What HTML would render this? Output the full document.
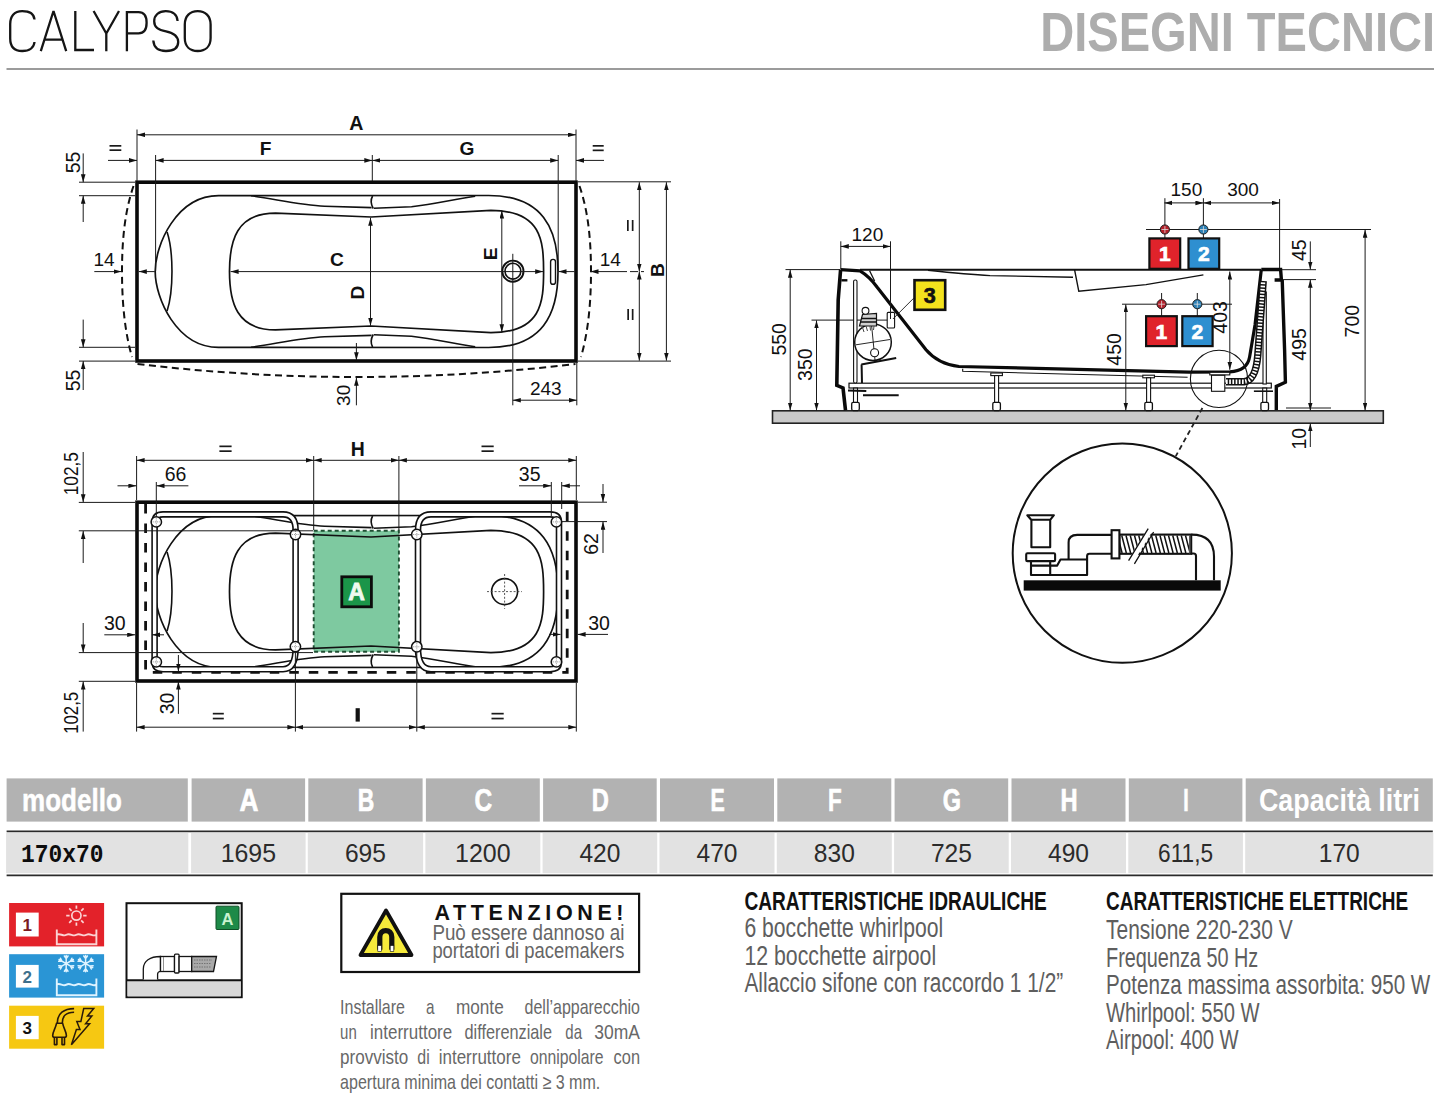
<!DOCTYPE html>
<html><head><meta charset="utf-8"><title>Calypso</title>
<style>
html,body{margin:0;padding:0;background:#fff;}
body{width:1445px;height:1099px;overflow:hidden;position:relative;font-family:"Liberation Sans",sans-serif;}
svg{position:absolute;left:0;top:0;}
</style></head><body>
<svg width="1445" height="1099" viewBox="0 0 1445 1099">
<defs>
<marker id="ar" markerUnits="userSpaceOnUse" markerWidth="9" markerHeight="6" refX="8" refY="2.3" orient="auto-start-reverse"><path d="M0,0 L8,2.3 L0,4.6 Z" fill="#111"/></marker>
</defs>
<g stroke="#151515" stroke-width="2.3" fill="none" stroke-linecap="butt" stroke-linejoin="miter">
<path d="M34.5,19.5 C34,14 29.5,11.2 22.2,11.2 C14,11.2 10.2,16.5 10.2,24 L10.2,38.5 C10.2,46.5 14,51 22.2,51 C29.5,51 34,47.5 34.5,42" stroke="#151515" stroke-width="2.3" fill="none" />
<path d="M40.8,51.2 L53.5,11 L66.2,51.2 M44.6,39.6 L62.4,39.6" stroke="#151515" stroke-width="2.3" fill="none" stroke-linejoin="bevel"/>
<path d="M75.3,11 L75.3,50 L94,50" stroke="#151515" stroke-width="2.3" fill="none" />
<path d="M93.6,11 L106.3,33.5 L119,11 M106.3,33.5 L106.3,51.2" stroke="#151515" stroke-width="2.3" fill="none" />
<path d="M126.9,51.2 L126.9,12.2 L138.5,12.2 C144.5,12.2 146.6,16 146.6,22.8 C146.6,29.5 144.5,33.4 138.5,33.4 L126.9,33.4" stroke="#151515" stroke-width="2.3" fill="none" />
<path d="M177.6,21 C177.2,14.5 172.5,11.2 165.8,11.2 C158.5,11.2 154.2,15.3 154.2,21.2 C154.2,27.5 158.5,29.8 166,31.4 C173.5,33 178.2,35.5 178.2,42 C178.2,48 173.5,51 166,51 C158.2,51 153.8,47.2 153.3,40.5" stroke="#151515" stroke-width="2.3" fill="none" />
<path d="M197.7,11.2 C205.3,11.2 210.6,16 210.6,24.5 L210.6,38 C210.6,46.5 205.3,51 197.7,51 C190,51 184.8,46.5 184.8,38 L184.8,24.5 C184.8,16 190,11.2 197.7,11.2 Z" stroke="#151515" stroke-width="2.3" fill="none" />
</g>
<text x="1040.2" y="51.2" font-family="Liberation Sans" font-size="56" font-weight="bold" text-anchor="start" fill="#adadad" textLength="395" lengthAdjust="spacingAndGlyphs" >DISEGNI TECNICI</text>
<line x1="6.5" y1="69" x2="1434" y2="69" stroke="#7a7a7a" stroke-width="1.5" />
<g transform="translate(0,0)" stroke="#111" fill="none" stroke-width="1.7" stroke-linejoin="round">
<path d="M218.5,195.6 L488.6,195.5 C542.8,195.5 558,229 558,271.5 C558,314 542.8,347.5 488.6,347.5 L218.5,347.4 C176.4,347.4 155.2,298 155.2,271.5 C155.2,245 176.4,195.6 218.5,195.6 Z" stroke="#111" stroke-width="1.7" fill="none" />
<path d="M275.5,213.1 L371,217 L490.9,210.4 C541.7,210.4 543.6,241.1 543.6,271.5 C543.6,301.9 541.7,332.6 490.9,332.6 L371,326 L275.5,329.9 C236.5,329.9 229.5,302.4 229.5,271.5 C229.5,240.6 236.5,213.1 275.5,213.1 Z" stroke="#111" stroke-width="1.7" fill="none" />
<path d="M251,195.8 C275,199 300,205 324.6,206.2 L371.6,207.6" stroke="#111" stroke-width="1.6" fill="none" />
<path d="M373.8,208.3 L411.5,206.7 C435,204 455,199 475.2,196.2" stroke="#111" stroke-width="1.6" fill="none" />
<path d="M372.6,196 C370.6,199.5 370.8,204 373.2,208.5" stroke="#111" stroke-width="1.6" fill="none" />
<path d="M251,347.2 C275,344 300,338 324.6,336.8 L371.6,335.4" stroke="#111" stroke-width="1.6" fill="none" />
<path d="M373.8,334.7 L411.5,336.3 C435,339 455,344 475.2,346.8" stroke="#111" stroke-width="1.6" fill="none" />
<path d="M372.6,347 C370.6,343.5 370.8,339 373.2,334.5" stroke="#111" stroke-width="1.6" fill="none" />
<path d="M167.1,232.1 C173.6,252 173.6,291 167.1,310.9" stroke="#111" stroke-width="1.6" fill="none" />
<circle cx="512.9" cy="271.2" r="10.6" stroke-width="1.9"/>
<circle cx="512.9" cy="271.2" r="7.9" stroke-width="1.6"/>
<rect x="550.6" y="259.4" width="4.9" height="24.9" rx="2.4" stroke-width="1.4"/>
</g>
<rect x="137" y="182.2" width="439" height="178.8" fill="none" stroke="#0a0a0a" stroke-width="3.6"/>
<path d="M133.5,186 C124.5,212 122,242 122,271.5 C122,301 124.5,331 132,357" stroke="#111" stroke-width="2" fill="none" stroke-dasharray="7 4.5"/>
<path d="M579.5,186 C588.5,212 591,242 591,271.5 C591,301 588.5,331 581,357" stroke="#111" stroke-width="2" fill="none" stroke-dasharray="7 4.5"/>
<path d="M137.5,364 Q356.5,390 575.5,364" stroke="#111" stroke-width="2" fill="none" stroke-dasharray="7 4.5"/>
<line x1="137" y1="129.5" x2="137" y2="181" stroke="#1a1a1a" stroke-width="1" />
<line x1="576" y1="129.5" x2="576" y2="181" stroke="#1a1a1a" stroke-width="1" />
<line x1="137" y1="134.8" x2="576" y2="134.8" stroke="#1a1a1a" stroke-width="1" marker-start="url(#ar)" marker-end="url(#ar)"/>
<text x="356.3" y="130" font-family="Liberation Sans" font-size="19.6" font-weight="bold" text-anchor="middle" fill="#111" >A</text>
<line x1="108" y1="160.4" x2="137" y2="160.4" stroke="#1a1a1a" stroke-width="1" marker-end="url(#ar)"/>
<line x1="604" y1="160.4" x2="576" y2="160.4" stroke="#1a1a1a" stroke-width="1" marker-end="url(#ar)"/>
<line x1="109.5" y1="145.85" x2="121.3" y2="145.85" stroke="#1a1a1a" stroke-width="1.7" />
<line x1="109.5" y1="150.15" x2="121.3" y2="150.15" stroke="#1a1a1a" stroke-width="1.7" />
<line x1="592.7" y1="145.85" x2="603.7" y2="145.85" stroke="#1a1a1a" stroke-width="1.7" />
<line x1="592.7" y1="150.35" x2="603.7" y2="150.35" stroke="#1a1a1a" stroke-width="1.7" />
<line x1="155.6" y1="155" x2="155.6" y2="271" stroke="#1a1a1a" stroke-width="1" />
<line x1="372.3" y1="155" x2="372.3" y2="181" stroke="#1a1a1a" stroke-width="1" />
<line x1="558.2" y1="155" x2="558.2" y2="271" stroke="#1a1a1a" stroke-width="1" />
<line x1="155.6" y1="160.4" x2="372.3" y2="160.4" stroke="#1a1a1a" stroke-width="1" marker-start="url(#ar)" marker-end="url(#ar)"/>
<line x1="372.3" y1="160.4" x2="558.2" y2="160.4" stroke="#1a1a1a" stroke-width="1" marker-start="url(#ar)" marker-end="url(#ar)"/>
<text x="265.5" y="154.8" font-family="Liberation Sans" font-size="19.2" font-weight="bold" text-anchor="middle" fill="#111" >F</text>
<text x="466.9" y="154.8" font-family="Liberation Sans" font-size="19.2" font-weight="bold" text-anchor="middle" fill="#111" >G</text>
<line x1="79" y1="182.2" x2="135" y2="182.2" stroke="#1a1a1a" stroke-width="1" />
<line x1="79" y1="195.7" x2="135" y2="195.7" stroke="#1a1a1a" stroke-width="1" />
<line x1="83.2" y1="153.4" x2="83.2" y2="182.2" stroke="#1a1a1a" stroke-width="1" marker-end="url(#ar)"/>
<line x1="83.2" y1="222" x2="83.2" y2="195.7" stroke="#1a1a1a" stroke-width="1" marker-end="url(#ar)"/>
<text transform="translate(80,162.5) rotate(-90)" x="0" y="0" font-family="Liberation Sans" font-size="19.5" font-weight="normal" text-anchor="middle" fill="#111">55</text>
<line x1="79" y1="347.3" x2="135" y2="347.3" stroke="#1a1a1a" stroke-width="1" />
<line x1="79" y1="361.1" x2="135" y2="361.1" stroke="#1a1a1a" stroke-width="1" />
<line x1="83.2" y1="319.6" x2="83.2" y2="347.3" stroke="#1a1a1a" stroke-width="1" marker-end="url(#ar)"/>
<line x1="83.2" y1="390" x2="83.2" y2="361.1" stroke="#1a1a1a" stroke-width="1" marker-end="url(#ar)"/>
<text transform="translate(80,380.5) rotate(-90)" x="0" y="0" font-family="Liberation Sans" font-size="19.5" font-weight="normal" text-anchor="middle" fill="#111">55</text>
<line x1="94.3" y1="271.6" x2="121.5" y2="271.6" stroke="#1a1a1a" stroke-width="1" marker-end="url(#ar)"/>
<line x1="154.8" y1="271.6" x2="138.8" y2="271.6" stroke="#1a1a1a" stroke-width="1" marker-end="url(#ar)"/>
<text x="104" y="266.3" font-family="Liberation Sans" font-size="19" font-weight="normal" text-anchor="middle" fill="#111" >14</text>
<line x1="230.6" y1="271.6" x2="543.2" y2="271.6" stroke="#1a1a1a" stroke-width="1" marker-start="url(#ar)" marker-end="url(#ar)"/>
<text x="337.05" y="265.6" font-family="Liberation Sans" font-size="19.2" font-weight="bold" text-anchor="middle" fill="#111" >C</text>
<line x1="574.5" y1="271.6" x2="558.5" y2="271.6" stroke="#1a1a1a" stroke-width="1" marker-end="url(#ar)"/>
<line x1="619" y1="271.6" x2="590.5" y2="271.6" stroke="#1a1a1a" stroke-width="1" marker-end="url(#ar)"/>
<line x1="619" y1="271.6" x2="644" y2="271.6" stroke="#1a1a1a" stroke-width="1" stroke-dasharray="8 3"/>
<text x="610.35" y="266.3" font-family="Liberation Sans" font-size="19" font-weight="normal" text-anchor="middle" fill="#111" >14</text>
<line x1="370.5" y1="217.8" x2="370.5" y2="325.8" stroke="#1a1a1a" stroke-width="1" marker-start="url(#ar)" marker-end="url(#ar)"/>
<text transform="translate(364,292.6) rotate(-90)" x="0" y="0" font-family="Liberation Sans" font-size="19.2" font-weight="bold" text-anchor="middle" fill="#111">D</text>
<line x1="501.8" y1="210.6" x2="501.8" y2="332.2" stroke="#1a1a1a" stroke-width="1" marker-start="url(#ar)" marker-end="url(#ar)"/>
<text transform="translate(496.6,253.8) rotate(-90)" x="0" y="0" font-family="Liberation Sans" font-size="19.2" font-weight="bold" text-anchor="middle" fill="#111">E</text>
<line x1="512.8" y1="253.8" x2="512.8" y2="405.3" stroke="#1a1a1a" stroke-width="1" />
<line x1="576.8" y1="362" x2="576.8" y2="405.3" stroke="#1a1a1a" stroke-width="1" />
<line x1="512.8" y1="400.2" x2="576.8" y2="400.2" stroke="#1a1a1a" stroke-width="1" marker-start="url(#ar)" marker-end="url(#ar)"/>
<text x="545.8" y="395.4" font-family="Liberation Sans" font-size="19" font-weight="normal" text-anchor="middle" fill="#111" >243</text>
<line x1="356.4" y1="343" x2="356.4" y2="360.3" stroke="#1a1a1a" stroke-width="1" marker-end="url(#ar)"/>
<line x1="356.4" y1="405.3" x2="356.4" y2="377.8" stroke="#1a1a1a" stroke-width="1" marker-end="url(#ar)"/>
<text transform="translate(349.8,395.35) rotate(-90)" x="0" y="0" font-family="Liberation Sans" font-size="19" font-weight="normal" text-anchor="middle" fill="#111">30</text>
<line x1="578" y1="181.8" x2="671" y2="181.8" stroke="#1a1a1a" stroke-width="1" />
<line x1="578" y1="361.1" x2="671" y2="361.1" stroke="#1a1a1a" stroke-width="1" />
<line x1="666.4" y1="182.2" x2="666.4" y2="360.7" stroke="#1a1a1a" stroke-width="1" marker-start="url(#ar)" marker-end="url(#ar)"/>
<line x1="639.3" y1="182.2" x2="639.3" y2="271.6" stroke="#1a1a1a" stroke-width="1" marker-start="url(#ar)" marker-end="url(#ar)"/>
<line x1="639.3" y1="271.6" x2="639.3" y2="360.7" stroke="#1a1a1a" stroke-width="1" marker-start="url(#ar)" marker-end="url(#ar)"/>
<text transform="translate(664,270.15) rotate(-90)" x="0" y="0" font-family="Liberation Sans" font-size="19.2" font-weight="bold" text-anchor="middle" fill="#111">B</text>
<line x1="627.85" y1="220" x2="627.85" y2="231" stroke="#1a1a1a" stroke-width="1.7" />
<line x1="632.65" y1="220" x2="632.65" y2="231" stroke="#1a1a1a" stroke-width="1.7" />
<line x1="628.15" y1="309" x2="628.15" y2="320" stroke="#1a1a1a" stroke-width="1.7" />
<line x1="632.65" y1="309" x2="632.65" y2="320" stroke="#1a1a1a" stroke-width="1.7" />
<rect x="313.7" y="530.8" width="85.2" height="121" fill="#7ec9a0" stroke="#1f4f33" stroke-width="1.9" stroke-dasharray="4 3"/>
<g transform="translate(0,320)" stroke="#111" fill="none" stroke-width="1.7" stroke-linejoin="round">
<path d="M218.5,195.6 L488.6,195.5 C542.8,195.5 558,229 558,271.5 C558,314 542.8,347.5 488.6,347.5 L218.5,347.4 C176.4,347.4 155.2,298 155.2,271.5 C155.2,245 176.4,195.6 218.5,195.6 Z" stroke="#111" stroke-width="1.7" fill="none" />
<path d="M275.5,213.1 L371,217 L490.9,210.4 C541.7,210.4 543.6,241.1 543.6,271.5 C543.6,301.9 541.7,332.6 490.9,332.6 L371,326 L275.5,329.9 C236.5,329.9 229.5,302.4 229.5,271.5 C229.5,240.6 236.5,213.1 275.5,213.1 Z" stroke="#111" stroke-width="1.7" fill="none" />
<path d="M251,195.8 C275,199 300,205 324.6,206.2 L371.6,207.6" stroke="#111" stroke-width="1.6" fill="none" />
<path d="M373.8,208.3 L411.5,206.7 C435,204 455,199 475.2,196.2" stroke="#111" stroke-width="1.6" fill="none" />
<path d="M372.6,196 C370.6,199.5 370.8,204 373.2,208.5" stroke="#111" stroke-width="1.6" fill="none" />
<path d="M251,347.2 C275,344 300,338 324.6,336.8 L371.6,335.4" stroke="#111" stroke-width="1.6" fill="none" />
<path d="M373.8,334.7 L411.5,336.3 C435,339 455,344 475.2,346.8" stroke="#111" stroke-width="1.6" fill="none" />
<path d="M372.6,347 C370.6,343.5 370.8,339 373.2,334.5" stroke="#111" stroke-width="1.6" fill="none" />
<path d="M167.1,232.1 C173.6,252 173.6,291 167.1,310.9" stroke="#111" stroke-width="1.6" fill="none" />
</g>
<circle cx="504.6" cy="591.6" r="13" fill="none" stroke="#111" stroke-width="1.6"/>
<path d="M487,591.6 H522 M504.6,574 V609" stroke="#444" stroke-width="0.9" stroke-dasharray="2 1.8"/>
<rect x="137" y="502.2" width="439" height="178.8" fill="none" stroke="#0a0a0a" stroke-width="3.6"/>
<path d="M154.6,522 Q154.6,514.4 163,514.4 H283 Q295.6,514.4 295.6,530 V648 Q295.6,669.2 283,669.2 H163 Q154.6,669.2 154.6,662 Z" fill="none" stroke="#111" stroke-width="6.6" stroke-linejoin="round"/>
<path d="M154.6,522 Q154.6,514.4 163,514.4 H283 Q295.6,514.4 295.6,530 V648 Q295.6,669.2 283,669.2 H163 Q154.6,669.2 154.6,662 Z" fill="none" stroke="#fff" stroke-width="3.4" stroke-linejoin="round"/>
<path d="M418,530 Q418,514.4 431,514.4 H550 Q559,514.4 559,522 V662 Q559,669.2 550,669.2 H431 Q418,669.2 418,648 Z" fill="none" stroke="#111" stroke-width="6.6" stroke-linejoin="round"/>
<path d="M418,530 Q418,514.4 431,514.4 H550 Q559,514.4 559,522 V662 Q559,669.2 550,669.2 H431 Q418,669.2 418,648 Z" fill="none" stroke="#fff" stroke-width="3.4" stroke-linejoin="round"/>
<circle cx="156.3" cy="521.9" r="5.2" fill="#fff" stroke="#111" stroke-width="1.5"/>
<path d="M152.6,521.9 H160 M156.3,518.2 V525.6" stroke="#777" stroke-width="0.7" stroke-dasharray="1.2 1"/>
<circle cx="295.5" cy="534.5" r="5.2" fill="#fff" stroke="#111" stroke-width="1.5"/>
<path d="M291.8,534.5 H299.2 M295.5,530.8 V538.2" stroke="#777" stroke-width="0.7" stroke-dasharray="1.2 1"/>
<circle cx="156.3" cy="661.9" r="5.2" fill="#fff" stroke="#111" stroke-width="1.5"/>
<path d="M152.6,661.9 H160 M156.3,658.2 V665.6" stroke="#777" stroke-width="0.7" stroke-dasharray="1.2 1"/>
<circle cx="295.4" cy="646.6" r="5.2" fill="#fff" stroke="#111" stroke-width="1.5"/>
<path d="M291.7,646.6 H299.1 M295.4,642.9 V650.3" stroke="#777" stroke-width="0.7" stroke-dasharray="1.2 1"/>
<circle cx="416.8" cy="534.5" r="5.2" fill="#fff" stroke="#111" stroke-width="1.5"/>
<path d="M413.1,534.5 H420.5 M416.8,530.8 V538.2" stroke="#777" stroke-width="0.7" stroke-dasharray="1.2 1"/>
<circle cx="556.4" cy="521.9" r="5.2" fill="#fff" stroke="#111" stroke-width="1.5"/>
<path d="M552.7,521.9 H560.1 M556.4,518.2 V525.6" stroke="#777" stroke-width="0.7" stroke-dasharray="1.2 1"/>
<circle cx="416.8" cy="646.8" r="5.2" fill="#fff" stroke="#111" stroke-width="1.5"/>
<path d="M413.1,646.8 H420.5 M416.8,643.1 V650.5" stroke="#777" stroke-width="0.7" stroke-dasharray="1.2 1"/>
<circle cx="556.4" cy="661.9" r="5.2" fill="#fff" stroke="#111" stroke-width="1.5"/>
<path d="M552.7,661.9 H560.1 M556.4,658.2 V665.6" stroke="#777" stroke-width="0.7" stroke-dasharray="1.2 1"/>
<path d="M145.6,504 V672.3 H567.2 V504" stroke="#111" stroke-width="2.8" fill="none" stroke-dasharray="9.5 10"/>
<rect x="341.8" y="576.8" width="29.6" height="30" fill="#1b9549" stroke="#0c0c0c" stroke-width="2.8"/>
<text x="356.6" y="600.2" font-family="Liberation Sans" font-size="23" font-weight="bold" text-anchor="middle" fill="#effaef" stroke="#effaef" stroke-width="0.8">A</text>
<line x1="136.6" y1="456" x2="136.6" y2="500" stroke="#1a1a1a" stroke-width="1" />
<line x1="313.7" y1="456" x2="313.7" y2="530" stroke="#1a1a1a" stroke-width="1" />
<line x1="398.9" y1="456" x2="398.9" y2="530" stroke="#1a1a1a" stroke-width="1" />
<line x1="576.3" y1="456" x2="576.3" y2="500" stroke="#1a1a1a" stroke-width="1" />
<line x1="136.6" y1="460.3" x2="313.7" y2="460.3" stroke="#1a1a1a" stroke-width="1" marker-start="url(#ar)" marker-end="url(#ar)"/>
<line x1="313.7" y1="460.3" x2="398.9" y2="460.3" stroke="#1a1a1a" stroke-width="1" marker-start="url(#ar)" marker-end="url(#ar)"/>
<line x1="398.9" y1="460.3" x2="576.3" y2="460.3" stroke="#1a1a1a" stroke-width="1" marker-start="url(#ar)" marker-end="url(#ar)"/>
<line x1="219.4" y1="446.35" x2="231.6" y2="446.35" stroke="#1a1a1a" stroke-width="1.7" />
<line x1="219.4" y1="451.15" x2="231.6" y2="451.15" stroke="#1a1a1a" stroke-width="1.7" />
<line x1="481.5" y1="446.35" x2="493.7" y2="446.35" stroke="#1a1a1a" stroke-width="1.7" />
<line x1="481.5" y1="451.15" x2="493.7" y2="451.15" stroke="#1a1a1a" stroke-width="1.7" />
<text x="357.7" y="455.5" font-family="Liberation Sans" font-size="19.4" font-weight="bold" text-anchor="middle" fill="#111" >H</text>
<line x1="117.5" y1="485.8" x2="136.4" y2="485.8" stroke="#1a1a1a" stroke-width="1" marker-end="url(#ar)"/>
<line x1="188.4" y1="485.8" x2="156.5" y2="485.8" stroke="#1a1a1a" stroke-width="1" marker-end="url(#ar)"/>
<line x1="156.3" y1="482" x2="156.3" y2="516" stroke="#1a1a1a" stroke-width="1" />
<text x="175.5" y="481.4" font-family="Liberation Sans" font-size="19.5" font-weight="normal" text-anchor="middle" fill="#111" >66</text>
<line x1="519" y1="485.8" x2="551.2" y2="485.8" stroke="#1a1a1a" stroke-width="1" marker-end="url(#ar)"/>
<line x1="580" y1="485.8" x2="561.8" y2="485.8" stroke="#1a1a1a" stroke-width="1" marker-end="url(#ar)"/>
<line x1="551.3" y1="482" x2="551.3" y2="516" stroke="#1a1a1a" stroke-width="1" />
<line x1="561.7" y1="482" x2="561.7" y2="509" stroke="#1a1a1a" stroke-width="1" />
<text x="529.65" y="481.4" font-family="Liberation Sans" font-size="19.5" font-weight="normal" text-anchor="middle" fill="#111" >35</text>
<line x1="78.8" y1="502.4" x2="135" y2="502.4" stroke="#1a1a1a" stroke-width="1" />
<line x1="78.8" y1="530.8" x2="313" y2="530.8" stroke="#1a1a1a" stroke-width="1" />
<line x1="83.2" y1="452" x2="83.2" y2="502.2" stroke="#1a1a1a" stroke-width="1" marker-end="url(#ar)"/>
<line x1="83.2" y1="563" x2="83.2" y2="531" stroke="#1a1a1a" stroke-width="1" marker-end="url(#ar)"/>
<text transform="translate(78.4,473.65) rotate(-90)" x="0" y="0" font-family="Liberation Sans" font-size="19.5" font-weight="normal" text-anchor="middle" fill="#111" textLength="43.3" lengthAdjust="spacingAndGlyphs">102,5</text>
<line x1="104.3" y1="634.8" x2="135.2" y2="634.8" stroke="#1a1a1a" stroke-width="1" marker-end="url(#ar)"/>
<line x1="164" y1="634.8" x2="152" y2="634.8" stroke="#1a1a1a" stroke-width="1" marker-end="url(#ar)"/>
<text x="114.8" y="629.8" font-family="Liberation Sans" font-size="19.5" font-weight="normal" text-anchor="middle" fill="#111" >30</text>
<line x1="78.8" y1="652.6" x2="313" y2="652.6" stroke="#1a1a1a" stroke-width="1" />
<line x1="78.8" y1="681.3" x2="135" y2="681.3" stroke="#1a1a1a" stroke-width="1" />
<line x1="83.2" y1="623" x2="83.2" y2="652.4" stroke="#1a1a1a" stroke-width="1" marker-end="url(#ar)"/>
<line x1="83.2" y1="731.6" x2="83.2" y2="681.5" stroke="#1a1a1a" stroke-width="1" marker-end="url(#ar)"/>
<text transform="translate(78.4,712.8) rotate(-90)" x="0" y="0" font-family="Liberation Sans" font-size="19.5" font-weight="normal" text-anchor="middle" fill="#111" textLength="42" lengthAdjust="spacingAndGlyphs">102,5</text>
<line x1="178.4" y1="655" x2="178.4" y2="671.5" stroke="#1a1a1a" stroke-width="1" marker-end="url(#ar)"/>
<line x1="178.4" y1="713.9" x2="178.4" y2="681.5" stroke="#1a1a1a" stroke-width="1" marker-end="url(#ar)"/>
<text transform="translate(174,703.4) rotate(-90)" x="0" y="0" font-family="Liberation Sans" font-size="19.5" font-weight="normal" text-anchor="middle" fill="#111">30</text>
<line x1="136.6" y1="683" x2="136.6" y2="731.6" stroke="#1a1a1a" stroke-width="1" />
<line x1="295.4" y1="652" x2="295.4" y2="731.6" stroke="#1a1a1a" stroke-width="1" />
<line x1="416.8" y1="652" x2="416.8" y2="731.6" stroke="#1a1a1a" stroke-width="1" />
<line x1="576.3" y1="683" x2="576.3" y2="731.6" stroke="#1a1a1a" stroke-width="1" />
<line x1="136.6" y1="727.2" x2="295.4" y2="727.2" stroke="#1a1a1a" stroke-width="1" marker-start="url(#ar)" marker-end="url(#ar)"/>
<line x1="295.4" y1="727.2" x2="416.8" y2="727.2" stroke="#1a1a1a" stroke-width="1" marker-start="url(#ar)" marker-end="url(#ar)"/>
<line x1="416.8" y1="727.2" x2="576.3" y2="727.2" stroke="#1a1a1a" stroke-width="1" marker-start="url(#ar)" marker-end="url(#ar)"/>
<line x1="212.8" y1="713.65" x2="223.8" y2="713.65" stroke="#1a1a1a" stroke-width="1.7" />
<line x1="212.8" y1="718.55" x2="223.8" y2="718.55" stroke="#1a1a1a" stroke-width="1.7" />
<line x1="491.5" y1="713.65" x2="503.7" y2="713.65" stroke="#1a1a1a" stroke-width="1.7" />
<line x1="491.5" y1="718.55" x2="503.7" y2="718.55" stroke="#1a1a1a" stroke-width="1.7" />
<rect x="355.6" y="708.2" width="4.2" height="13.4" fill="#111"/>
<line x1="578" y1="502.2" x2="607" y2="502.2" stroke="#1a1a1a" stroke-width="1" />
<line x1="562" y1="521.6" x2="607" y2="521.6" stroke="#1a1a1a" stroke-width="1" />
<line x1="603" y1="484" x2="603" y2="502" stroke="#1a1a1a" stroke-width="1" marker-end="url(#ar)"/>
<line x1="603" y1="553" x2="603" y2="521.8" stroke="#1a1a1a" stroke-width="1" marker-end="url(#ar)"/>
<text transform="translate(598,544) rotate(-90)" x="0" y="0" font-family="Liberation Sans" font-size="19.5" font-weight="normal" text-anchor="middle" fill="#111">62</text>
<line x1="608" y1="634.4" x2="577.6" y2="634.4" stroke="#1a1a1a" stroke-width="1" marker-end="url(#ar)"/>
<line x1="549" y1="634.4" x2="560.5" y2="634.4" stroke="#1a1a1a" stroke-width="1" marker-end="url(#ar)"/>
<text x="599" y="629.6" font-family="Liberation Sans" font-size="19.5" font-weight="normal" text-anchor="middle" fill="#111" >30</text>
<rect x="772.5" y="410.8" width="610.8" height="12.4" fill="#c9c9c9" stroke="#222" stroke-width="1.6"/>
<line x1="785.5" y1="269.6" x2="840" y2="269.6" stroke="#1a1a1a" stroke-width="1" />
<line x1="860" y1="269.8" x2="1261" y2="269.8" stroke="#111" stroke-width="1.9" />
<line x1="1146" y1="229.5" x2="1371" y2="229.5" stroke="#1a1a1a" stroke-width="1" />
<line x1="1122" y1="304.2" x2="1232" y2="304.2" stroke="#1a1a1a" stroke-width="1" />
<line x1="811.5" y1="320.1" x2="893" y2="320.1" stroke="#1a1a1a" stroke-width="1" />
<path d="M928,270.2 C950,272.5 970,274.5 990,275.6 L1073,277.3" stroke="#111" stroke-width="1.4" fill="none" />
<path d="M1074.6,269.8 L1078.8,291.3 L1146,284.6 L1203.4,274.9" stroke="#111" stroke-width="1.4" fill="none" />
<rect x="849" y="383.2" width="422.3" height="4.8" fill="#fff" stroke="#111" stroke-width="1.2"/>
<path d="M962.7,368.8 V371.3 L1187.6,377.2" stroke="#111" stroke-width="1.1" fill="none" />
<rect x="853.5" y="388.1" width="4" height="14.4" fill="#fff" stroke="#111" stroke-width="1.1"/>
<rect x="851.7" y="402.3" width="7.6" height="8.3" rx="1.5" fill="#fff" stroke="#111" stroke-width="1.3"/>
<rect x="990.8" y="373" width="11.6" height="2.6" fill="#fff" stroke="#111" stroke-width="1.1"/>
<rect x="994.6" y="375.6" width="4" height="26.9" fill="#fff" stroke="#111" stroke-width="1.1"/>
<rect x="992.8" y="402.3" width="7.6" height="8.3" rx="1.5" fill="#fff" stroke="#111" stroke-width="1.3"/>
<rect x="1142.8" y="375.2" width="11.6" height="2.6" fill="#fff" stroke="#111" stroke-width="1.1"/>
<rect x="1146.6" y="377.8" width="4" height="24.7" fill="#fff" stroke="#111" stroke-width="1.1"/>
<rect x="1144.8" y="402.3" width="7.6" height="8.3" rx="1.5" fill="#fff" stroke="#111" stroke-width="1.3"/>
<rect x="1262.7" y="388.1" width="4" height="14.4" fill="#fff" stroke="#111" stroke-width="1.1"/>
<rect x="1260.9" y="402.3" width="7.6" height="8.3" rx="1.5" fill="#fff" stroke="#111" stroke-width="1.3"/>
<path d="M840.6,269.6 L860,270.8 C867,275 872,280 877,287 L926,349.7 C933,358 943,364.5 959,366.5 L1189,372.2 L1229.8,371.8 C1242,371.2 1248,366 1249.6,357 L1255,325 L1261.3,269.5" stroke="#0a0a0a" stroke-width="3.2" fill="none" />
<path d="M840.6,269.6 L838.2,299.8 L836.8,385.4 L843,387.9 L845.5,410.3" stroke="#0a0a0a" stroke-width="3.6" fill="none" />
<path d="M1261.3,269.5 L1280.6,269.5 L1281.4,280 L1274.6,280" stroke="#0a0a0a" stroke-width="3.4" fill="none" />
<path d="M1282.2,280 L1284.6,350 L1285.4,382.2 L1276.3,386.4 L1276.3,410" stroke="#0a0a0a" stroke-width="3.4" fill="none" />
<path d="M869.6,270.8 L874.6,281" stroke="#111" stroke-width="1.3" fill="none" />
<path d="M841.4,280.3 L847.4,280.3" stroke="#0a0a0a" stroke-width="2.4" fill="none" />
<rect x="853.6" y="280" width="3.4" height="103" rx="1.5" fill="#fff" stroke="#111" stroke-width="1.1"/>
<rect x="1263" y="292" width="3.3" height="92" fill="#fff" stroke="#111" stroke-width="1.1"/>
<circle cx="873" cy="342.2" r="18.3" fill="#fff" stroke="#111" stroke-width="1.5"/>
<path d="M856,344.8 L890,339.5 M871.5,324.5 L875,360" stroke="#111" stroke-width="0.9" fill="none" />
<circle cx="874.6" cy="352.8" r="4" fill="#fff" stroke="#111" stroke-width="1.1"/>
<path d="M859.5,326 L862.5,314.5 L876.5,313.5 L876.5,326 Z" stroke="#111" stroke-width="1.2" fill="#d0d0d0" />
<path d="M861,318.5 H876.5 M860.5,322 H876.5" stroke="#111" stroke-width="1.3" fill="none" />
<path d="M862,326 L864,332 M866,326 L867.5,331 M870,326 L870.5,330.5 M874,326 L873.5,330" stroke="#444" stroke-width="1" fill="none" />
<circle cx="865.5" cy="310.8" r="3.4" fill="#fff" stroke="#111" stroke-width="1.1"/>
<rect x="887.2" y="312.4" width="7.4" height="15.6" rx="1" fill="#fff" stroke="#111" stroke-width="1.1"/>
<line x1="892.9" y1="319" x2="913.7" y2="298.2" stroke="#1a1a1a" stroke-width="0.9" />
<path d="M861.3,364.6 L896.2,358 M861.6,364.6 L862,383" stroke="#111" stroke-width="2" fill="none" />
<path d="M848,390.4 L866.3,391 M863,395.3 L898.7,395.3" stroke="#111" stroke-width="2" fill="none" />
<path d="M1253.9,391.2 L1273,391.2" stroke="#111" stroke-width="1.6" fill="none" />
<path d="M1226,381.8 L1244,381.8 C1252,381 1256.5,372 1257.8,355 L1263.2,281" fill="none" stroke="#111" stroke-width="7.4"/>
<path d="M1226,381.8 L1244,381.8 C1252,381 1256.5,372 1257.8,355 L1263.2,281" fill="none" stroke="#fff" stroke-width="4.4" stroke-dasharray="1.7 1.5"/>
<rect x="1209.8" y="372.3" width="20" height="2.6" fill="#fff" stroke="#111" stroke-width="1.1"/>
<rect x="1211.5" y="375.3" width="13.3" height="16" fill="#fff" stroke="#111" stroke-width="1.1"/>
<circle cx="1219" cy="378.9" r="28.6" fill="none" stroke="#111" stroke-width="1.1"/>
<line x1="1202.4" y1="408" x2="1175.8" y2="456.1" stroke="#222" stroke-width="1.8" stroke-dasharray="5 3.5"/>
<rect x="914.5" y="280.2" width="30.7" height="29.6" fill="#f3e21d" stroke="#111" stroke-width="2.6"/>
<text x="929.85" y="302.74" font-family="Liberation Sans" font-size="21.5" font-weight="bold" text-anchor="middle" fill="#111" stroke="#111" stroke-width="0.7">3</text>
<line x1="1164.9" y1="198.2" x2="1164.9" y2="238" stroke="#1a1a1a" stroke-width="1" />
<line x1="1203.4" y1="198.2" x2="1203.4" y2="238" stroke="#1a1a1a" stroke-width="1" />
<line x1="1161.6" y1="293" x2="1161.6" y2="316" stroke="#1a1a1a" stroke-width="1" />
<line x1="1197.3" y1="293" x2="1197.3" y2="316" stroke="#1a1a1a" stroke-width="1" />
<circle cx="1164.9" cy="229.5" r="4.6" fill="#b3202a" stroke="#222" stroke-width="1"/>
<path d="M1161.5,229.5 H1168.3 M1164.9,226.1 V232.9" stroke="#ddd" stroke-width="0.8"/>
<circle cx="1203.4" cy="229.5" r="4.6" fill="#2a7fb5" stroke="#222" stroke-width="1"/>
<path d="M1200,229.5 H1206.8 M1203.4,226.1 V232.9" stroke="#ddd" stroke-width="0.8"/>
<circle cx="1161.6" cy="304.2" r="4.6" fill="#b3202a" stroke="#222" stroke-width="1"/>
<path d="M1158.2,304.2 H1165 M1161.6,300.8 V307.6" stroke="#ddd" stroke-width="0.8"/>
<circle cx="1197.3" cy="304.2" r="4.6" fill="#2a7fb5" stroke="#222" stroke-width="1"/>
<path d="M1193.9,304.2 H1200.7 M1197.3,300.8 V307.6" stroke="#ddd" stroke-width="0.8"/>
<rect x="1149.4" y="238.4" width="30.8" height="30.4" fill="#e0232b" stroke="#111" stroke-width="2.2"/>
<text x="1164.8" y="261.16" font-family="Liberation Sans" font-size="21" font-weight="bold" text-anchor="middle" fill="#fff" stroke="#fff" stroke-width="0.7">1</text>
<rect x="1188.5" y="238.4" width="30.7" height="30.4" fill="#2e8fd0" stroke="#111" stroke-width="2.2"/>
<text x="1203.85" y="261.16" font-family="Liberation Sans" font-size="21" font-weight="bold" text-anchor="middle" fill="#fff" stroke="#fff" stroke-width="0.7">2</text>
<rect x="1146.1" y="316.2" width="30.7" height="29.9" fill="#e0232b" stroke="#111" stroke-width="2.2"/>
<text x="1161.45" y="338.71" font-family="Liberation Sans" font-size="21" font-weight="bold" text-anchor="middle" fill="#fff" stroke="#fff" stroke-width="0.7">1</text>
<rect x="1182.3" y="316.2" width="30.3" height="29.9" fill="#2e8fd0" stroke="#111" stroke-width="2.2"/>
<text x="1197.45" y="338.71" font-family="Liberation Sans" font-size="21" font-weight="bold" text-anchor="middle" fill="#fff" stroke="#fff" stroke-width="0.7">2</text>
<line x1="840.8" y1="241.3" x2="840.8" y2="269" stroke="#1a1a1a" stroke-width="1" />
<line x1="890.5" y1="241.3" x2="890.5" y2="319" stroke="#1a1a1a" stroke-width="1" />
<line x1="840.8" y1="246.4" x2="890.5" y2="246.4" stroke="#1a1a1a" stroke-width="1" marker-start="url(#ar)" marker-end="url(#ar)"/>
<text x="867.4" y="241.3" font-family="Liberation Sans" font-size="19" font-weight="normal" text-anchor="middle" fill="#111" >120</text>
<line x1="790.2" y1="269.8" x2="790.2" y2="410.6" stroke="#1a1a1a" stroke-width="1" marker-start="url(#ar)" marker-end="url(#ar)"/>
<text transform="translate(785.7,339.35) rotate(-90)" x="0" y="0" font-family="Liberation Sans" font-size="19.5" font-weight="normal" text-anchor="middle" fill="#111">550</text>
<line x1="816.5" y1="320.4" x2="816.5" y2="410.6" stroke="#1a1a1a" stroke-width="1" marker-start="url(#ar)" marker-end="url(#ar)"/>
<text transform="translate(811.5,364.65) rotate(-90)" x="0" y="0" font-family="Liberation Sans" font-size="19.5" font-weight="normal" text-anchor="middle" fill="#111">350</text>
<line x1="1164.4" y1="202.9" x2="1203.4" y2="202.9" stroke="#1a1a1a" stroke-width="1" marker-start="url(#ar)" marker-end="url(#ar)"/>
<line x1="1203.4" y1="202.9" x2="1279.6" y2="202.9" stroke="#1a1a1a" stroke-width="1" marker-start="url(#ar)" marker-end="url(#ar)"/>
<line x1="1279.6" y1="199" x2="1279.6" y2="268" stroke="#1a1a1a" stroke-width="1" />
<text x="1186.4" y="195.7" font-family="Liberation Sans" font-size="19" font-weight="normal" text-anchor="middle" fill="#111" >150</text>
<text x="1243.05" y="195.7" font-family="Liberation Sans" font-size="19" font-weight="normal" text-anchor="middle" fill="#111" >300</text>
<line x1="1282" y1="269.7" x2="1316" y2="269.7" stroke="#1a1a1a" stroke-width="1" />
<line x1="1283" y1="279.6" x2="1316" y2="279.6" stroke="#1a1a1a" stroke-width="1" />
<line x1="1310.3" y1="241.4" x2="1310.3" y2="269.5" stroke="#1a1a1a" stroke-width="1" marker-end="url(#ar)"/>
<line x1="1310.3" y1="279.8" x2="1310.3" y2="410.6" stroke="#1a1a1a" stroke-width="1" marker-start="url(#ar)" marker-end="url(#ar)"/>
<line x1="1310.3" y1="447" x2="1310.3" y2="423.4" stroke="#1a1a1a" stroke-width="1" marker-end="url(#ar)"/>
<line x1="1286" y1="408" x2="1331" y2="408" stroke="#1a1a1a" stroke-width="1" />
<text transform="translate(1306.2,250.15) rotate(-90)" x="0" y="0" font-family="Liberation Sans" font-size="19.5" font-weight="normal" text-anchor="middle" fill="#111">45</text>
<text transform="translate(1306.2,344.4) rotate(-90)" x="0" y="0" font-family="Liberation Sans" font-size="19.5" font-weight="normal" text-anchor="middle" fill="#111">495</text>
<text transform="translate(1306.2,438.7) rotate(-90)" x="0" y="0" font-family="Liberation Sans" font-size="19.5" font-weight="normal" text-anchor="middle" fill="#111">10</text>
<line x1="1365.1" y1="229.7" x2="1365.1" y2="410.6" stroke="#1a1a1a" stroke-width="1" marker-start="url(#ar)" marker-end="url(#ar)"/>
<text transform="translate(1359.3,321.2) rotate(-90)" x="0" y="0" font-family="Liberation Sans" font-size="19.5" font-weight="normal" text-anchor="middle" fill="#111">700</text>
<line x1="1125.8" y1="304.4" x2="1125.8" y2="410.6" stroke="#1a1a1a" stroke-width="1" marker-start="url(#ar)" marker-end="url(#ar)"/>
<text transform="translate(1121.2,349.4) rotate(-90)" x="0" y="0" font-family="Liberation Sans" font-size="19.5" font-weight="normal" text-anchor="middle" fill="#111">450</text>
<line x1="1229.8" y1="271.5" x2="1229.8" y2="369.8" stroke="#1a1a1a" stroke-width="1" marker-start="url(#ar)" marker-end="url(#ar)"/>
<text transform="translate(1227.3,317.4) rotate(-90)" x="0" y="0" font-family="Liberation Sans" font-size="19.5" font-weight="normal" text-anchor="middle" fill="#111">403</text>
<circle cx="1122.3" cy="553.2" r="109.6" fill="#fff" stroke="#111" stroke-width="2"/>
<rect x="1023.7" y="580.3" width="197" height="10.3" fill="#0a0a0a"/>
<g stroke="#111" stroke-width="2.1" fill="none" stroke-linejoin="round">
<path d="M1031.4,519.7 V547.2 H1050.2 V519.7 Z M1027.3,515.2 H1053.9 L1050.4,519.7 H1031.2 Z"/>
<rect x="1026.2" y="553.3" width="28.9" height="7.8" rx="1.2"/>
<path d="M1031,561.1 V575 H1087.1 V556 Q1087.1,553.7 1089.5,553.7 H1111.5 M1050.2,561.1 V575 M1031,565.6 H1050.2 M1050.2,565.6 H1057.2 L1060.5,559.5 H1087.1"/>
<path d="M1068.6,559.5 V542.5 Q1068.6,534.9 1077.2,534.9 H1111.5"/>
<path d="M1191.5,534.6 Q1214,534.6 1214,556.5 V580.3 M1191,553.5 H1193.5 Q1196,553.5 1196,556 V580.3"/>
</g>
<rect x="1119.4" y="534.6" width="71.8" height="19.2" fill="#fff" stroke="#111" stroke-width="2.1"/>
<clipPath id="hclip"><rect x="1119.4" y="534.6" width="70.5" height="19.2"/></clipPath>
<path d="M1117.5,535.5 L1122.1,553 M1121.75,535.5 L1126.35,553 M1126,535.5 L1130.6,553 M1130.25,535.5 L1134.85,553 M1134.5,535.5 L1139.1,553 M1138.75,535.5 L1143.35,553 M1143,535.5 L1147.6,553 M1147.25,535.5 L1151.85,553 M1151.5,535.5 L1156.1,553 M1155.75,535.5 L1160.35,553 M1160,535.5 L1164.6,553 M1164.25,535.5 L1168.85,553 M1168.5,535.5 L1173.1,553 M1172.75,535.5 L1177.35,553 M1177,535.5 L1181.6,553 M1181.25,535.5 L1185.85,553 M1185.5,535.5 L1190.1,553" stroke="#111" stroke-width="1.5" clip-path="url(#hclip)"/>
<line x1="1189.6" y1="535" x2="1189.6" y2="553.5" stroke="#555" stroke-width="1.2" />
<rect x="1111.6" y="530.2" width="7.8" height="28.2" fill="#fff" stroke="#111" stroke-width="2.1"/>
<path d="M1129.8,563 L1150.5,529" stroke="#fff" stroke-width="5.5"/>
<path d="M1128.6,560.6 L1148.2,528.6 M1134.4,563.9 L1153.6,532" stroke="#111" stroke-width="1.3"/>
<rect x="6.6" y="778.4" width="181.2" height="43.2" fill="#b2b2b2"/>
<rect x="6.1" y="833" width="182.2" height="40.2" fill="#e2e2e2"/>
<rect x="191.6" y="778.4" width="113.5" height="43.2" fill="#b2b2b2"/>
<rect x="191.1" y="833" width="114.5" height="40.2" fill="#e2e2e2"/>
<rect x="308.3" y="778.4" width="114.3" height="43.2" fill="#b2b2b2"/>
<rect x="307.8" y="833" width="115.3" height="40.2" fill="#e2e2e2"/>
<rect x="425.9" y="778.4" width="113.9" height="43.2" fill="#b2b2b2"/>
<rect x="425.4" y="833" width="114.9" height="40.2" fill="#e2e2e2"/>
<rect x="543.1" y="778.4" width="113.6" height="43.2" fill="#b2b2b2"/>
<rect x="542.6" y="833" width="114.6" height="40.2" fill="#e2e2e2"/>
<rect x="660" y="778.4" width="114" height="43.2" fill="#b2b2b2"/>
<rect x="659.5" y="833" width="115" height="40.2" fill="#e2e2e2"/>
<rect x="777.3" y="778.4" width="114" height="43.2" fill="#b2b2b2"/>
<rect x="776.8" y="833" width="115" height="40.2" fill="#e2e2e2"/>
<rect x="894.6" y="778.4" width="113.6" height="43.2" fill="#b2b2b2"/>
<rect x="894.1" y="833" width="114.6" height="40.2" fill="#e2e2e2"/>
<rect x="1011.5" y="778.4" width="114" height="43.2" fill="#b2b2b2"/>
<rect x="1011" y="833" width="115" height="40.2" fill="#e2e2e2"/>
<rect x="1128.8" y="778.4" width="113.6" height="43.2" fill="#b2b2b2"/>
<rect x="1128.3" y="833" width="114.6" height="40.2" fill="#e2e2e2"/>
<rect x="1245.7" y="778.4" width="187.1" height="43.2" fill="#b2b2b2"/>
<rect x="1245.2" y="833" width="188.1" height="40.2" fill="#e2e2e2"/>
<line x1="6.6" y1="831.3" x2="1432.8" y2="831.3" stroke="#2a2a2a" stroke-width="1.7" />
<line x1="6.6" y1="875.4" x2="1432.8" y2="875.4" stroke="#2a2a2a" stroke-width="1.9" />
<text x="22.1" y="811" font-family="Liberation Sans" font-size="31.5" font-weight="bold" text-anchor="start" fill="#fff" textLength="99.7" lengthAdjust="spacingAndGlyphs" stroke="#fff" stroke-width="0.5">modello</text>
<text x="248.85" y="811" font-family="Liberation Sans" font-size="31.5" font-weight="bold" text-anchor="middle" fill="#fff" textLength="18.92" lengthAdjust="spacingAndGlyphs" stroke="#fff" stroke-width="0.7">A</text>
<text x="365.95" y="811" font-family="Liberation Sans" font-size="31.5" font-weight="bold" text-anchor="middle" fill="#fff" textLength="16.53" lengthAdjust="spacingAndGlyphs" stroke="#fff" stroke-width="0.7">B</text>
<text x="483.35" y="811" font-family="Liberation Sans" font-size="31.5" font-weight="bold" text-anchor="middle" fill="#fff" textLength="17.67" lengthAdjust="spacingAndGlyphs" stroke="#fff" stroke-width="0.7">C</text>
<text x="600.4" y="811" font-family="Liberation Sans" font-size="31.5" font-weight="bold" text-anchor="middle" fill="#fff" textLength="17.1" lengthAdjust="spacingAndGlyphs" stroke="#fff" stroke-width="0.7">D</text>
<text x="717.5" y="811" font-family="Liberation Sans" font-size="31.5" font-weight="bold" text-anchor="middle" fill="#fff" textLength="14.25" lengthAdjust="spacingAndGlyphs" stroke="#fff" stroke-width="0.7">E</text>
<text x="834.8" y="811" font-family="Liberation Sans" font-size="31.5" font-weight="bold" text-anchor="middle" fill="#fff" textLength="13.68" lengthAdjust="spacingAndGlyphs" stroke="#fff" stroke-width="0.7">F</text>
<text x="951.9" y="811" font-family="Liberation Sans" font-size="31.5" font-weight="bold" text-anchor="middle" fill="#fff" textLength="18.24" lengthAdjust="spacingAndGlyphs" stroke="#fff" stroke-width="0.7">G</text>
<text x="1069" y="811" font-family="Liberation Sans" font-size="31.5" font-weight="bold" text-anchor="middle" fill="#fff" textLength="17.1" lengthAdjust="spacingAndGlyphs" stroke="#fff" stroke-width="0.7">H</text>
<text x="1186.1" y="811" font-family="Liberation Sans" font-size="31.5" font-weight="bold" text-anchor="middle" fill="#fff" textLength="5.47" lengthAdjust="spacingAndGlyphs" stroke="#fff" stroke-width="0.7">I</text>
<text x="1259" y="811" font-family="Liberation Sans" font-size="31.5" font-weight="bold" text-anchor="start" fill="#fff" textLength="161" lengthAdjust="spacingAndGlyphs" >Capacità litri</text>
<text x="21" y="861.9" font-family="Liberation Mono" font-size="25.8" font-weight="bold" text-anchor="start" fill="#0d0d0d" textLength="82.5" lengthAdjust="spacingAndGlyphs" >170x70</text>
<text x="248.35" y="862.4" font-family="Liberation Sans" font-size="26.5" font-weight="normal" text-anchor="middle" fill="#2b2b2b" textLength="55.4" lengthAdjust="spacingAndGlyphs" >1695</text>
<text x="365.45" y="862.4" font-family="Liberation Sans" font-size="26.5" font-weight="normal" text-anchor="middle" fill="#2b2b2b" textLength="41" lengthAdjust="spacingAndGlyphs" >695</text>
<text x="482.85" y="862.4" font-family="Liberation Sans" font-size="26.5" font-weight="normal" text-anchor="middle" fill="#2b2b2b" textLength="55.5" lengthAdjust="spacingAndGlyphs" >1200</text>
<text x="599.9" y="862.4" font-family="Liberation Sans" font-size="26.5" font-weight="normal" text-anchor="middle" fill="#2b2b2b" textLength="41" lengthAdjust="spacingAndGlyphs" >420</text>
<text x="717" y="862.4" font-family="Liberation Sans" font-size="26.5" font-weight="normal" text-anchor="middle" fill="#2b2b2b" textLength="41" lengthAdjust="spacingAndGlyphs" >470</text>
<text x="834.3" y="862.4" font-family="Liberation Sans" font-size="26.5" font-weight="normal" text-anchor="middle" fill="#2b2b2b" textLength="41" lengthAdjust="spacingAndGlyphs" >830</text>
<text x="951.4" y="862.4" font-family="Liberation Sans" font-size="26.5" font-weight="normal" text-anchor="middle" fill="#2b2b2b" textLength="41" lengthAdjust="spacingAndGlyphs" >725</text>
<text x="1068.5" y="862.4" font-family="Liberation Sans" font-size="26.5" font-weight="normal" text-anchor="middle" fill="#2b2b2b" textLength="41" lengthAdjust="spacingAndGlyphs" >490</text>
<text x="1185.6" y="862.4" font-family="Liberation Sans" font-size="26.5" font-weight="normal" text-anchor="middle" fill="#2b2b2b" textLength="55" lengthAdjust="spacingAndGlyphs" >611,5</text>
<text x="1339.25" y="862.4" font-family="Liberation Sans" font-size="26.5" font-weight="normal" text-anchor="middle" fill="#2b2b2b" textLength="41" lengthAdjust="spacingAndGlyphs" >170</text>
<rect x="9.1" y="903" width="95" height="43.4" fill="#e3222a"/>
<rect x="15.9" y="912.6" width="22.8" height="23.9" fill="#fff"/>
<text x="27.3" y="931" font-family="Liberation Sans" font-size="17" font-weight="bold" text-anchor="middle" fill="#7a1a1e" >1</text>
<circle cx="76.4" cy="915.6" r="4.6" fill="none" stroke="#fbd3d3" stroke-width="1.7"/>
<path d="M83.2,915.6 L86.6,915.6 M81.21,920.41 L83.61,922.81 M76.4,922.4 L76.4,925.8 M71.59,920.41 L69.19,922.81 M69.6,915.6 L66.2,915.6 M71.59,910.79 L69.19,908.39 M76.4,908.8 L76.4,905.4 M81.21,910.79 L83.61,908.39" stroke="#fbd3d3" stroke-width="1.7"/>
<path d="M56.8,929.5 V944.3 H96.4 V929.5 M56.8,934.8 C60,932.5 63,937 66.5,934.8 C70,932.5 73,937 76.5,934.8 C80,932.5 83,937 86.5,934.8 C90,932.5 93,937 96.4,934.8" fill="none" stroke="#fbd3d3" stroke-width="1.9"/>
<rect x="9.1" y="954.2" width="95" height="43.4" fill="#2a95d5"/>
<rect x="15.9" y="964.9" width="22.8" height="22.7" fill="#fff"/>
<text x="27.3" y="982.6" font-family="Liberation Sans" font-size="17" font-weight="bold" text-anchor="middle" fill="#3d6f8c" >2</text>
<path d="M66.2,963.6 L66.2,971.8 M66.2,968.6 L64.39,971.24 M66.2,968.6 L68.01,971.24 M66.2,963.6 L59.1,967.7 M61.87,966.1 L58.68,965.86 M61.87,966.1 L60.49,968.99 M66.2,963.6 L59.1,959.5 M61.87,961.1 L60.49,958.21 M61.87,961.1 L58.68,961.34 M66.2,963.6 L66.2,955.4 M66.2,958.6 L68.01,955.96 M66.2,958.6 L64.39,955.96 M66.2,963.6 L73.3,959.5 M70.53,961.1 L73.72,961.34 M70.53,961.1 L71.91,958.21 M66.2,963.6 L73.3,967.7 M70.53,966.1 L71.91,968.99 M70.53,966.1 L73.72,965.86" stroke="#dff3ff" stroke-width="1.5" stroke-linecap="round"/>
<path d="M85.6,963.6 L85.6,971.8 M85.6,968.6 L83.79,971.24 M85.6,968.6 L87.41,971.24 M85.6,963.6 L78.5,967.7 M81.27,966.1 L78.08,965.86 M81.27,966.1 L79.89,968.99 M85.6,963.6 L78.5,959.5 M81.27,961.1 L79.89,958.21 M81.27,961.1 L78.08,961.34 M85.6,963.6 L85.6,955.4 M85.6,958.6 L87.41,955.96 M85.6,958.6 L83.79,955.96 M85.6,963.6 L92.7,959.5 M89.93,961.1 L93.12,961.34 M89.93,961.1 L91.31,958.21 M85.6,963.6 L92.7,967.7 M89.93,966.1 L91.31,968.99 M89.93,966.1 L93.12,965.86" stroke="#dff3ff" stroke-width="1.5" stroke-linecap="round"/>
<path d="M56.8,978.5 V995.3 H96.4 V978.5 M56.8,984.6 C60,982.2 63,987 66.5,984.6 C70,982.2 73,987 76.5,984.6 C80,982.2 83,987 86.5,984.6 C90,982.2 93,987 96.4,984.6" fill="none" stroke="#dff3ff" stroke-width="1.9"/>
<rect x="9.1" y="1005.7" width="95" height="43" fill="#f6c812"/>
<rect x="15.9" y="1015.9" width="22.8" height="23.3" fill="#fff"/>
<text x="27.3" y="1033.8" font-family="Liberation Sans" font-size="17" font-weight="bold" text-anchor="middle" fill="#111" >3</text>
<path d="M74.1,1008.6 C64,1008.6 57.3,1013.5 57.3,1023 M74.1,1012.3 C66,1012.3 62.3,1016 62.3,1023" fill="none" stroke="#2a1a0a" stroke-width="1.6"/>
<path d="M56.6,1023.2 H62.6 C63.5,1028 66.4,1032 66.4,1035.5 Q66.4,1037.3 64.6,1037.3 H54.5 Q52.7,1037.3 52.7,1035.5 C52.7,1032 55.7,1028 56.6,1023.2 Z M54.4,1037.5 V1044.6 H56.9 V1037.5 M62,1037.5 V1044.6 H64.5 V1037.5" fill="none" stroke="#2a1a0a" stroke-width="1.6" stroke-linejoin="round"/>
<path d="M83.7,1008.5 L93.7,1008.5 L87.5,1015.9 L91.9,1015.9 L85.6,1023.7 L89.6,1023.7 L71.4,1044.8 L76.4,1029.6 L80,1029.6 L76.8,1021.4 L80.9,1021.4 Z" fill="none" stroke="#2a1a0a" stroke-width="1.5" stroke-linejoin="miter"/>
<rect x="126.5" y="903.2" width="115.2" height="94" fill="#fff" stroke="#111" stroke-width="2"/>
<rect x="127.5" y="980.2" width="113.2" height="16.2" fill="#d8d8d8"/>
<line x1="126.5" y1="980.2" x2="241.7" y2="980.2" stroke="#111" stroke-width="2" />
<rect x="216" y="906.2" width="23" height="23.3" rx="1" fill="#1e8a48" stroke="#0e4f26" stroke-width="1"/>
<text x="227.5" y="925.2" font-family="Liberation Sans" font-size="16.5" font-weight="bold" text-anchor="middle" fill="#c9f2cf" >A</text>
<path d="M143.3,979.4 V969 C143.3,961 150,956.5 160.5,956.5 V971.3 C159,971.3 157.6,972.6 157.6,974 V979.4" stroke="#151515" stroke-width="1.3" fill="#fff"/>
<rect x="160.5" y="956.5" width="14" height="15" stroke="#151515" stroke-width="1.3" fill="#fff"/>
<line x1="163.5" y1="957" x2="163.5" y2="971" stroke="#777" stroke-width="0.8" />
<rect x="174.5" y="954.2" width="4.6" height="18.8" rx="1" stroke="#151515" stroke-width="1.3" fill="#fff"/>
<rect x="179.1" y="956.5" width="12.6" height="15" stroke="#151515" stroke-width="1.3" fill="#fff"/>
<path d="M191.7,956.5 H216.5 L213.5,971.5 H191.7 Z" fill="#a9a9a9" stroke="#151515" stroke-width="1.3"/>
<path d="M194,960 H212 M194,963.5 H211 M194,967 H210.5" stroke="#6d6d6d" stroke-width="0.9" stroke-dasharray="1.5 1"/>
<rect x="341.3" y="893.8" width="297.8" height="78.2" fill="#fff" stroke="#111" stroke-width="2.2"/>
<path d="M386,910.5 L360.5,955 H411.5 Z" fill="#f6ea3b" stroke="#111" stroke-width="3.8" stroke-linejoin="round"/>
<path d="M379.8,949.8 V937 C379.8,932.5 382.5,930.6 385.8,930.6 C389.1,930.6 391.8,932.5 391.8,937 V949.8" fill="none" stroke="#111" stroke-width="5.2"/>
<rect x="377.8" y="945.6" width="3.6" height="5.8" fill="#fff" stroke="#111" stroke-width="0.6"/>
<rect x="390.2" y="945.6" width="3.6" height="5.8" fill="#fff" stroke="#111" stroke-width="0.6"/>
<text x="434.5" y="919.7" font-family="Liberation Sans" font-size="21.5" font-weight="bold" fill="#111" textLength="189" lengthAdjust="spacing">ATTENZIONE!</text>
<text x="432.4" y="939.6" font-family="Liberation Sans" font-size="21.5" font-weight="normal" text-anchor="start" fill="#666" textLength="192" lengthAdjust="spacingAndGlyphs" >Può essere dannoso ai</text>
<text x="432.4" y="958" font-family="Liberation Sans" font-size="21.5" font-weight="normal" text-anchor="start" fill="#666" textLength="192" lengthAdjust="spacingAndGlyphs" >portatori di pacemakers</text>
<text x="340.1" y="1013.6" font-family="Liberation Sans" font-size="20.2" font-weight="normal" text-anchor="start" fill="#686868" textLength="64.9" lengthAdjust="spacingAndGlyphs" >Installare</text>
<text x="425.9" y="1013.6" font-family="Liberation Sans" font-size="20.2" font-weight="normal" text-anchor="start" fill="#686868" textLength="8.5" lengthAdjust="spacingAndGlyphs" >a</text>
<text x="455.9" y="1013.6" font-family="Liberation Sans" font-size="20.2" font-weight="normal" text-anchor="start" fill="#686868" textLength="47.8" lengthAdjust="spacingAndGlyphs" >monte</text>
<text x="524.6" y="1013.6" font-family="Liberation Sans" font-size="20.2" font-weight="normal" text-anchor="start" fill="#686868" textLength="115.4" lengthAdjust="spacingAndGlyphs" >dell’apparecchio</text>
<text x="340.1" y="1038.9" font-family="Liberation Sans" font-size="20.2" font-weight="normal" text-anchor="start" fill="#686868" textLength="16.7" lengthAdjust="spacingAndGlyphs" >un</text>
<text x="370.1" y="1038.9" font-family="Liberation Sans" font-size="20.2" font-weight="normal" text-anchor="start" fill="#686868" textLength="82.1" lengthAdjust="spacingAndGlyphs" >interruttore</text>
<text x="464.5" y="1038.9" font-family="Liberation Sans" font-size="20.2" font-weight="normal" text-anchor="start" fill="#686868" textLength="87.5" lengthAdjust="spacingAndGlyphs" >differenziale</text>
<text x="565.3" y="1038.9" font-family="Liberation Sans" font-size="20.2" font-weight="normal" text-anchor="start" fill="#686868" textLength="16.7" lengthAdjust="spacingAndGlyphs" >da</text>
<text x="594.3" y="1038.9" font-family="Liberation Sans" font-size="20.2" font-weight="normal" text-anchor="start" fill="#686868" textLength="45.7" lengthAdjust="spacingAndGlyphs" >30mA</text>
<text x="340.1" y="1064" font-family="Liberation Sans" font-size="20.2" font-weight="normal" text-anchor="start" fill="#686868" textLength="68.2" lengthAdjust="spacingAndGlyphs" >provvisto</text>
<text x="417.3" y="1064" font-family="Liberation Sans" font-size="20.2" font-weight="normal" text-anchor="start" fill="#686868" textLength="12.4" lengthAdjust="spacingAndGlyphs" >di</text>
<text x="438.7" y="1064" font-family="Liberation Sans" font-size="20.2" font-weight="normal" text-anchor="start" fill="#686868" textLength="82.2" lengthAdjust="spacingAndGlyphs" >interruttore</text>
<text x="529.9" y="1064" font-family="Liberation Sans" font-size="20.2" font-weight="normal" text-anchor="start" fill="#686868" textLength="73.6" lengthAdjust="spacingAndGlyphs" >onnipolare</text>
<text x="613.6" y="1064" font-family="Liberation Sans" font-size="20.2" font-weight="normal" text-anchor="start" fill="#686868" textLength="26.4" lengthAdjust="spacingAndGlyphs" >con</text>
<text x="340.1" y="1088.7" font-family="Liberation Sans" font-size="20.2" font-weight="normal" text-anchor="start" fill="#686868" textLength="260.2" lengthAdjust="spacingAndGlyphs" >apertura minima dei contatti ≥ 3 mm.</text>
<text x="744.4" y="909.7" font-family="Liberation Sans" font-size="25" font-weight="bold" text-anchor="start" fill="#111" textLength="302.4" lengthAdjust="spacingAndGlyphs" >CARATTERISTICHE IDRAULICHE</text>
<text x="744.4" y="937.2" font-family="Liberation Sans" font-size="27" font-weight="normal" text-anchor="start" fill="#5e5e5e" textLength="198.8" lengthAdjust="spacingAndGlyphs" >6 bocchette whirlpool</text>
<text x="744.4" y="965" font-family="Liberation Sans" font-size="27" font-weight="normal" text-anchor="start" fill="#5e5e5e" textLength="191.8" lengthAdjust="spacingAndGlyphs" >12 bocchette airpool</text>
<text x="744.4" y="992.1" font-family="Liberation Sans" font-size="27" font-weight="normal" text-anchor="start" fill="#5e5e5e" textLength="318.8" lengthAdjust="spacingAndGlyphs" >Allaccio sifone con raccordo 1 1/2”</text>
<text x="1106" y="910" font-family="Liberation Sans" font-size="25" font-weight="bold" text-anchor="start" fill="#111" textLength="302.2" lengthAdjust="spacingAndGlyphs" >CARATTERISTICHE ELETTRICHE</text>
<text x="1106" y="939" font-family="Liberation Sans" font-size="27" font-weight="normal" text-anchor="start" fill="#5e5e5e" textLength="186.7" lengthAdjust="spacingAndGlyphs" >Tensione 220-230 V</text>
<text x="1106" y="966.5" font-family="Liberation Sans" font-size="27" font-weight="normal" text-anchor="start" fill="#5e5e5e" textLength="152.3" lengthAdjust="spacingAndGlyphs" >Frequenza 50 Hz</text>
<text x="1106" y="994" font-family="Liberation Sans" font-size="27" font-weight="normal" text-anchor="start" fill="#5e5e5e" textLength="324.3" lengthAdjust="spacingAndGlyphs" >Potenza massima assorbita: 950 W</text>
<text x="1106" y="1021.5" font-family="Liberation Sans" font-size="27" font-weight="normal" text-anchor="start" fill="#5e5e5e" textLength="153.5" lengthAdjust="spacingAndGlyphs" >Whirlpool: 550 W</text>
<text x="1106" y="1049" font-family="Liberation Sans" font-size="27" font-weight="normal" text-anchor="start" fill="#5e5e5e" textLength="132.6" lengthAdjust="spacingAndGlyphs" >Airpool: 400 W</text>
</svg>
</body></html>
